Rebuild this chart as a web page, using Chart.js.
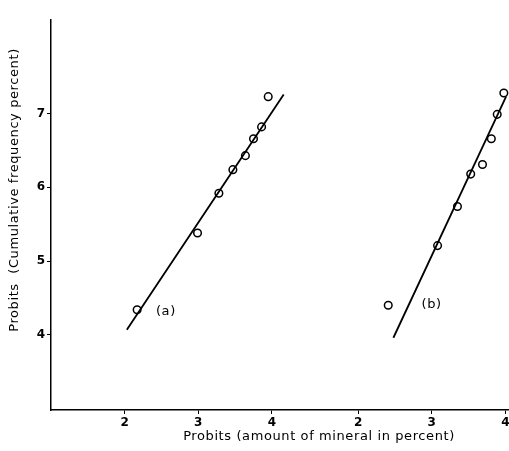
<!DOCTYPE html>
<html>
<head>
<meta charset="utf-8">
<script src="https://cdn.jsdelivr.net/npm/chart.js@4"></script>
<style>
  html, body { margin: 0; padding: 0; background: #fff; }
  canvas { display: block; }
</style>
</head>
<body>
<canvas id="grafico" width="509" height="451"></canvas>
<script>
// panel (a) points
const panelAx = [2.17, 2.99, 3.28, 3.47, 3.64, 3.75, 3.86, 3.95];
const panelAy = [4.34, 5.38, 5.92, 6.24, 6.43, 6.66, 6.82, 7.23];
// panel (b) points
const panelBx = [2.41, 3.08, 3.35, 3.53, 3.69, 3.81, 3.89, 3.98];
const panelBy = [4.40, 5.21, 5.74, 6.18, 6.31, 6.66, 6.99, 7.28];
// fitted lines (ends)
const lineAx = [2.03, 4.16];
const lineAy = [4.07, 7.26];
const lineBx = [2.48, 4.01];
const lineBy = [3.96, 7.23];

const xTicks = [2, 3, 4];
const yTicks = [4, 5, 6, 7];
const panelOffset = 3.17; // panel (b) sits to the right of panel (a) on the same axis

const panelLabels = ['(a)', '(b)'];
const panelLabelX = [2.56, 3.0];
const panelLabelY = [4.31, 4.41];

const xTitle = 'Probits (amount of mineral in percent)';
const yTitle = 'Probits  (Cumulative frequency percent)';

function pontos(xs, ys, off) {
    return xs.map((x, i) => ({ x: x + off, y: ys[i] }));
}

const marcador = {
    showLine: false,
    pointRadius: 3.8,
    pointHoverRadius: 3.8,
    pointBorderWidth: 1.5,
    pointBackgroundColor: '#fff',
    pointBorderColor: '#000'
};
const reta = {
    showLine: true,
    borderColor: '#000',
    borderWidth: 1.8,
    pointRadius: 0
};

// titles and (a)/(b) labels
const textos = {
    id: 'textos',
    afterDraw(chart) {
        const ctx = chart.ctx;
        const sx = chart.scales.x, sy = chart.scales.y;
        ctx.save();
        ctx.fillStyle = '#000';
        ctx.textAlign = 'center';
        ctx.textBaseline = 'middle';
        ctx.letterSpacing = '0.6px';
        ctx.font = '13px "DejaVu Sans"';
        panelLabels.forEach((t, i) => {
            const off = i === 1 ? panelOffset : 0;
            ctx.fillText(t, sx.getPixelForValue(panelLabelX[i] + off), sy.getPixelForValue(panelLabelY[i]));
        });
        ctx.fillText(xTitle, 319, 437);
        ctx.translate(15, 190);
        ctx.rotate(-Math.PI / 2);
        ctx.fillText(yTitle, 0, 0);
        ctx.restore();
    }
};

const ctx = document.getElementById('grafico').getContext('2d');
new Chart(ctx, {
    type: 'scatter',
    data: {
        datasets: [
            Object.assign({ data: pontos(lineAx, lineAy, 0) }, reta),
            Object.assign({ data: pontos(lineBx, lineBy, panelOffset) }, reta),
            Object.assign({ data: pontos(panelAx, panelAy, 0) }, marcador),
            Object.assign({ data: pontos(panelBx, panelBy, panelOffset) }, marcador)
        ]
    },
    options: {
        responsive: false,
        animation: false,
        devicePixelRatio: 1,
        layout: { autoPadding: false, padding: { top: 20, right: 0, left: 0, bottom: 0 } },
        plugins: {
            legend: { display: false },
            tooltip: { enabled: false }
        },
        scales: {
            x: {
                type: 'linear',
                min: 1.0,
                max: 7.22,
                afterBuildTicks: (scale) => {
                    scale.ticks = xTicks.concat(xTicks.map(v => v + panelOffset)).map(v => ({ value: v }));
                },
                afterFit: (scale) => {
                    scale.height = 41;
                    scale.paddingLeft = 0;
                    scale.paddingRight = 0;
                },
                ticks: {
                    color: '#000',
                    font: { family: 'DejaVu Sans', size: 12, weight: 'bold' },
                    padding: 2,
                    maxRotation: 0,
                    autoSkip: false,
                    callback: (value) => String(Math.round(value > 4.5 ? value - panelOffset : value))
                },
                grid: { drawOnChartArea: false, color: '#000', tickLength: 4 },
                border: { display: true, color: '#000', width: 1.5 }
            },
            y: {
                type: 'linear',
                min: 2.98,
                max: 8.27,
                afterBuildTicks: (scale) => {
                    scale.ticks = yTicks.map(v => ({ value: v }));
                },
                afterFit: (scale) => {
                    scale.width = 51;
                    scale.paddingTop = 0;
                    scale.paddingBottom = 0;
                },
                ticks: {
                    color: '#000',
                    font: { family: 'DejaVu Sans', size: 12, weight: 'bold' },
                    padding: 2
                },
                grid: { drawOnChartArea: false, color: '#000', tickLength: 4 },
                border: { display: true, color: '#000', width: 1.5 }
            }
        }
    },
    plugins: [textos]
});
</script>
</body>
</html>
